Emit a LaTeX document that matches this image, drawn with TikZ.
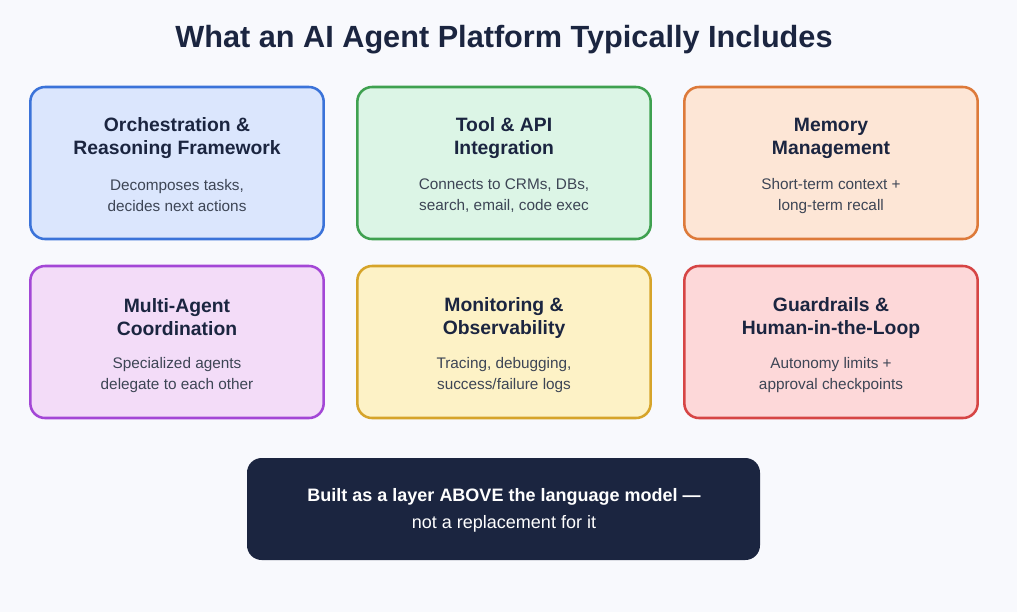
\documentclass[tikz,border=0pt]{standalone}
\usepackage{fontspec}
\setmainfont{Liberation Sans}
\usetikzlibrary{positioning}
\definecolor{bg}{HTML}{F8F9FD}
\definecolor{ink}{HTML}{1B2540}
\definecolor{txt}{HTML}{3D4555}
\definecolor{blueF}{HTML}{DBE6FD}\definecolor{blueD}{HTML}{3B73D9}
\definecolor{greenF}{HTML}{DCF5E6}\definecolor{greenD}{HTML}{3FA150}
\definecolor{orangeF}{HTML}{FDE6D6}\definecolor{orangeD}{HTML}{DD7A3A}
\definecolor{purpleF}{HTML}{F3DCF8}\definecolor{purpleD}{HTML}{A347D6}
\definecolor{yellowF}{HTML}{FDF2C6}\definecolor{yellowD}{HTML}{D6A42A}
\definecolor{redF}{HTML}{FDD8D9}\definecolor{redD}{HTML}{D64545}
\begin{document}
\begin{tikzpicture}[x=0.75pt,y=-0.75pt,
card/.style={draw,rounded corners=11pt,line width=1.9pt,minimum width=220pt,minimum height=114pt,inner sep=0pt},
head/.style={text=ink,align=center,font=\fontsize{14.5}{17.25}\selectfont\bfseries},
desc/.style={text=txt,align=center,font=\fontsize{11.5}{15.75}\selectfont}]
\useasboundingbox[fill=bg] (0,0) rectangle (1017,612);
\node[text=ink,font=\fontsize{23}{27}\selectfont\bfseries] (title) at (504,40) {What an AI Agent Platform Typically Includes};
% top row
\node[card,fill=blueF,draw=blueD] (orch) at (177,163) {};
\node[head] (orchH) at (177,138.5) {Orchestration \&\\Reasoning Framework};
\node[desc] (orchD) at (177,196) {Decomposes tasks,\\decides next actions};
\node[card,fill=greenF,draw=greenD] (tool) at (504,163) {};
\node[head] (toolH) at (504,138.5) {Tool \& API\\Integration};
\node[desc] (toolD) at (504,196) {Connects to CRMs, DBs,\\search, email, code exec};
\node[card,fill=orangeF,draw=orangeD] (mem) at (831,163) {};
\node[head] (memH) at (831,138.5) {Memory\\Management};
\node[desc] (memD) at (831,196) {Short-term context +\\long-term recall};
% bottom row
\node[card,fill=purpleF,draw=purpleD] (multi) at (177,342) {};
\node[head] (multiH) at (177,317.5) {Multi-Agent\\Coordination};
\node[desc] (multiD) at (177,375) {Specialized agents\\delegate to each other};
\node[card,fill=yellowF,draw=yellowD] (mon) at (504,342) {};
\node[head] (monH) at (504,317.5) {Monitoring \&\\Observability};
\node[desc] (monD) at (504,375) {Tracing, debugging,\\success/failure logs};
\node[card,fill=redF,draw=redD] (guard) at (831,342) {};
\node[head] (guardH) at (831,317.5) {Guardrails \&\\Human-in-the-Loop};
\node[desc] (guardD) at (831,375) {Autonomy limits +\\approval checkpoints};
% footer
\node[fill=ink,rounded corners=11pt,minimum width=384.75pt,minimum height=76.5pt,inner sep=0pt] (layer) at (503.5,509) {};
\node[text=white,align=center,font=\fontsize{13.5}{20}\selectfont] (layerT) at (504,510.5) {\textbf{Built as a layer ABOVE the language model —}\\not a replacement for it};
\end{tikzpicture}
\end{document}
